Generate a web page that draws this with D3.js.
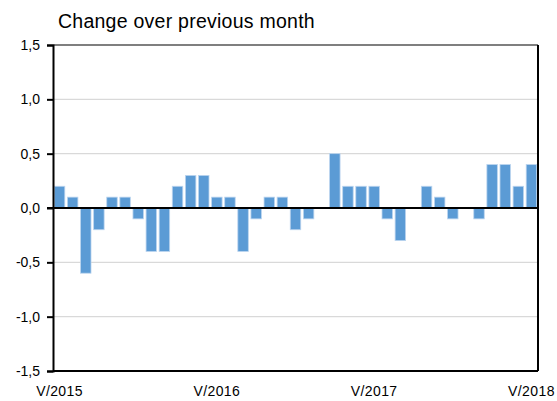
<!DOCTYPE html>
<html>
<head>
<meta charset="utf-8">
<script src="https://cdn.jsdelivr.net/npm/d3@7"></script>
<style>
  body { margin: 0; background: #fff; }
  text { font-family: "Liberation Sans", Arial, sans-serif; fill: #000; }
</style>
</head>
<body>
<svg id="chart" width="557" height="401"></svg>
<script>
// months May 2015 .. May 2018
const months = d3.range(37).map(i => {
  const yr = 2015 + Math.floor((i + 4) / 12);
  const m = (i + 4) % 12 + 1;
  return yr + "-" + m;
});
const values = [0.2, 0.1, -0.6, -0.2, 0.1, 0.1, -0.1, -0.4, -0.4, 0.2, 0.3, 0.3,
                0.1, 0.1, -0.4, -0.1, 0.1, 0.1, -0.2, -0.1, 0.0, 0.5, 0.2, 0.2,
                0.2, -0.1, -0.3, 0.0, 0.2, 0.1, -0.1, 0.0, -0.1, 0.4, 0.4, 0.2,
                0.4];
const xLabels = ["V/2015", "V/2016", "V/2017", "V/2018"];
const xLabelIdx = [0, 12, 24, 36];
const yTicks = [-1.5, -1.0, -0.5, 0.0, 0.5, 1.0, 1.5];
const title = "Change over previous month";

const svg = d3.select("#chart");
const mLeft = 53, mRight = 538, mTop = 45, mBottom = 371;

const x = d3.scaleBand()
  .domain(d3.range(values.length))
  .range([mLeft, mRight])
  .paddingInner(0.2)
  .paddingOuter(0.1);

const y = d3.scaleLinear()
  .domain([-1.5, 1.5])
  .range([mBottom, mTop]);

svg.append("text")
  .attr("x", 58)
  .attr("y", 28)
  .attr("font-size", "19.5px")
  .attr("letter-spacing", "0.25px")
  .text(title);

// gridlines
svg.append("g")
  .selectAll("line")
  .data(yTicks.filter(d => d !== 0 && Math.abs(d) !== 1.5))
  .join("line")
  .attr("x1", mLeft).attr("x2", mRight)
  .attr("y1", d => y(d)).attr("y2", d => y(d))
  .attr("stroke", "#d9d9d9")
  .attr("stroke-width", 1.2);

// bars
svg.append("g")
  .selectAll("rect")
  .data(values)
  .join("rect")
  .attr("x", (d, i) => x(i))
  .attr("width", x.bandwidth())
  .attr("y", d => y(Math.max(0, d)))
  .attr("height", d => Math.abs(y(d) - y(0)))
  .attr("fill", "#5b9bd5")
  .attr("stroke", "#bcd5ef")
  .attr("stroke-width", 0.8);

// frame
svg.append("line")
  .attr("x1", mLeft).attr("x2", mRight).attr("y1", mTop).attr("y2", mTop)
  .attr("stroke", "#7f7f7f").attr("stroke-width", 2);
svg.append("line")
  .attr("x1", mRight).attr("x2", mRight).attr("y1", mTop).attr("y2", mBottom)
  .attr("stroke", "#000").attr("stroke-width", 2);
svg.append("line")
  .attr("x1", mLeft).attr("x2", mRight).attr("y1", mBottom).attr("y2", mBottom)
  .attr("stroke", "#000").attr("stroke-width", 2);

// zero line
svg.append("line")
  .attr("x1", mLeft - 6).attr("x2", mRight).attr("y1", y(0)).attr("y2", y(0))
  .attr("stroke", "#000").attr("stroke-width", 2);

// y axis
const yAxis = d3.axisLeft(y)
  .tickValues(yTicks)
  .tickSize(6)
  .tickPadding(7)
  .tickFormat(d => d3.format(".1f")(d).replace(".", ",").replace("−", "-"));

const gy = svg.append("g")
  .attr("transform", `translate(${mLeft},0)`)
  .call(yAxis);
gy.select(".domain").attr("stroke", "#000").attr("stroke-width", 2);
gy.selectAll(".tick line").attr("stroke", "#000").attr("stroke-width", 2);
gy.selectAll(".tick text")
  .attr("font-size", "14px")
  .attr("font-family", "Liberation Sans, Arial, sans-serif")
  .attr("fill", "#000");

// x labels
svg.append("g")
  .selectAll("text")
  .data(xLabelIdx)
  .join("text")
  .attr("x", d => x(d) + x.bandwidth() / 2)
  .attr("y", 396)
  .attr("text-anchor", "middle")
  .attr("font-size", "14px")
  .attr("letter-spacing", "0.4px")
  .text((d, i) => xLabels[i]);
</script>
</body>
</html>
